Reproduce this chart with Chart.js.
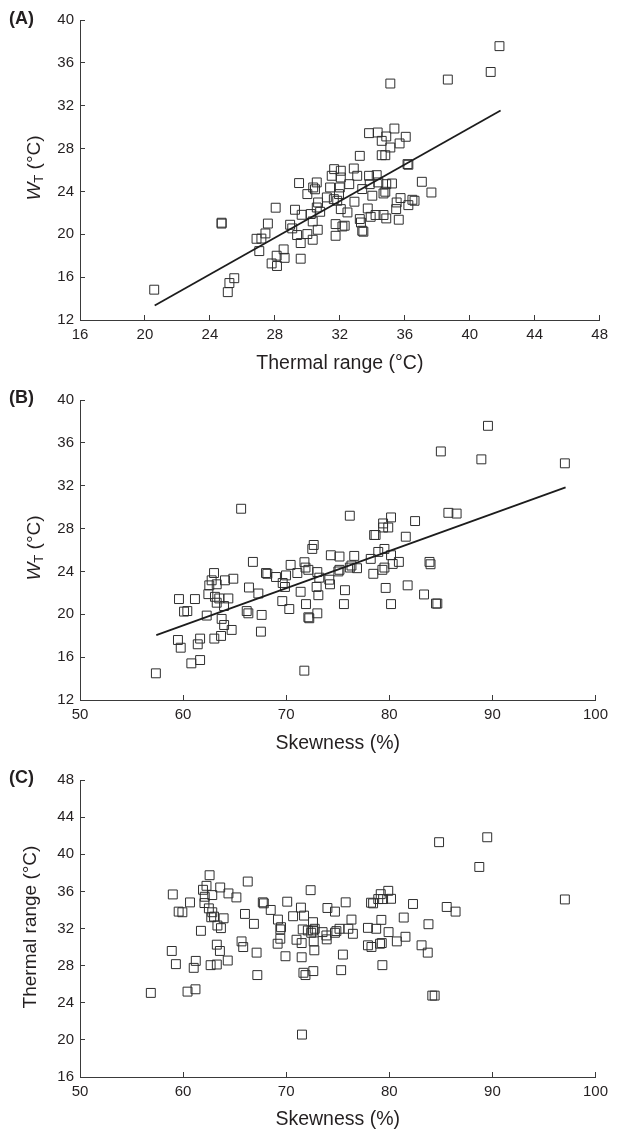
<!DOCTYPE html>
<html>
<head>
<meta charset="utf-8">
<script src="https://cdn.jsdelivr.net/npm/chart.js@4.4.1/dist/chart.umd.min.js"></script>
<style>
  body { margin: 0; background: #fff; width: 619px; height: 1133px; position: relative; overflow: hidden;
         font-family: "Liberation Sans", Arial, sans-serif; color: #231f20; }
  canvas { position: absolute; left: 0; }
  .tag { position: absolute; left: 9px; font-weight: bold; font-size: 18px; line-height: 20px; }
  .ylab { position: absolute; transform: translate(-50%, -50%) rotate(-90deg); white-space: nowrap; font-size: 19px; }
  .ylab sub { font-size: 13px; vertical-align: -3px; }
</style>
</head>
<body>
<canvas id="chartA" width="619" height="380" style="top:0"></canvas>
<canvas id="chartB" width="619" height="380" style="top:380px"></canvas>
<canvas id="chartC" width="619" height="373" style="top:760px"></canvas>

<div class="tag" style="top:8px">(A)</div>
<div class="tag" style="top:387px">(B)</div>
<div class="tag" style="top:767px">(C)</div>
<div class="ylab" style="left:34px; top:168px"><i>W</i><sub>T</sub> (°C)</div>
<div class="ylab" style="left:34px; top:548px"><i>W</i><sub>T</sub> (°C)</div>
<div class="ylab" style="left:30px; top:927px">Thermal range (°C)</div>

<script>
// (A) thermal range vs W_T
const thermalA = [20.57, 24.72, 24.72, 25.5, 25.2, 25.1, 27.04, 26.87, 27.17, 27.42, 27.57, 28.05, 27.8, 28.13, 28.11,
  28.54, 28.6, 29.59, 28.94, 29.07, 29.24, 29.49, 29.37, 29.59, 29.65, 30.0, 30.0, 30.21, 30.33, 30.33, 30.64, 30.36,
  30.47, 30.58, 30.58, 30.79, 30.66, 31.2, 31.4, 31.5, 31.65, 31.63, 31.74, 31.74, 32.06, 32.06, 32.0, 31.95, 31.84,
  32.06, 32.16, 32.3, 32.47, 32.58, 32.86, 33.07, 32.9, 33.23, 33.23, 33.3, 33.38, 33.45, 33.38, 33.72, 33.8, 33.84,
  34.0, 33.9, 33.8, 34.33, 34.27, 34.37, 34.2, 34.58, 34.86, 34.58, 34.8, 34.69, 34.8, 34.86, 34.69, 34.86, 35.11,
  35.36, 35.21, 35.5, 35.47, 35.63, 35.74, 35.68, 36.06, 36.17, 36.22, 36.22, 36.47, 36.6, 37.05, 37.64, 35.11, 38.65,
  41.29, 41.83];
const wtA = [14.83, 21.08, 21.0, 15.9, 15.45, 14.6, 18.43, 19.58, 19.6, 20.08, 21.0, 22.48, 17.28, 17.04, 18.0,
  18.59, 17.8, 17.72, 20.89, 20.55, 22.29, 24.78, 19.93, 19.18, 21.82, 20.02, 23.75, 21.89, 21.2, 19.49, 20.42, 24.37,
  24.2, 24.84, 22.5, 22.1, 22.97, 23.44, 24.37, 25.46, 26.08, 23.28, 20.95, 19.86, 25.93, 25.3, 24.37, 23.75, 23.13,
  22.35, 20.73, 20.8, 22.04, 24.68, 26.14, 25.46, 23.04, 27.32, 21.42, 21.1, 20.33, 20.24, 24.22, 22.41, 25.46, 24.68,
  23.6, 21.63, 29.44, 29.5, 25.52, 24.84, 21.8, 28.72, 29.13, 27.38, 27.38, 23.81, 23.97, 24.68, 21.8, 21.48, 28.1,
  29.87, 24.74, 22.97, 22.35, 21.36, 23.38, 28.48, 29.1, 26.55, 26.49, 22.72, 23.22, 23.13, 24.9, 23.9, 34.07, 34.44,
  35.15, 37.56];
const fitAx = [20.6, 41.9];
const fitAy = [13.35, 31.55];

// (B) skewness vs W_T
const skewB = [89.57, 85.0, 88.93, 97.03, 65.63, 76.17, 80.17, 79.4, 79.9, 79.4, 82.5, 85.73, 86.53, 78.53, 78.67,
  81.6, 72.67, 72.53, 66.77, 79.53, 78.93, 74.33, 75.17, 76.6, 78.2, 80.17, 80.93, 80.33, 83.9, 84.0, 71.77, 70.43,
  71.87, 76.33, 76.17, 79.53, 76.87, 75.17, 79.33,
  63.0, 64.06, 64.87, 62.77, 62.54, 63.26, 62.45, 63.09, 63.51, 64.39, 63.26, 63.97, 59.6, 61.15, 60.09, 60.41, 62.29,
  63.74, 66.39, 67.3, 68.17, 68.04, 69.01, 69.98, 69.66, 69.88, 71.08, 72.15, 73.02, 73.21, 72.95, 73.12, 71.4, 69.62,
  70.3, 71.92, 66.17, 66.33, 67.62, 72.15, 72.24, 73.02, 74.18, 74.25, 75.06, 75.7, 75.6,
  78.45, 79.65, 81.78, 83.37, 80.17, 84.53, 84.66,
  57.36, 71.76, 59.5, 59.77, 60.8, 61.65, 61.42, 61.65, 63.03, 63.68, 63.98, 64.71, 67.55];
const wtB = [37.59, 35.2, 34.46, 34.09, 29.85, 29.2, 29.04, 28.48, 28.1, 28.1, 28.7, 29.47, 29.4, 27.4, 27.4,
  27.24, 26.47, 26.1, 24.89, 26.1, 25.82, 25.51, 25.39, 25.45, 25.17, 25.51, 24.89, 24.7, 24.89, 24.67, 24.86, 24.61,
  24.36, 24.55, 24.36, 24.36, 24.3, 24.15, 24.15,
  23.85, 23.17, 23.32, 23.17, 22.7, 22.8, 21.88, 21.63, 21.48, 21.48, 21.08, 20.77, 21.42, 21.42, 20.25, 20.3, 19.88,
  19.57, 22.5, 21.94, 23.78, 23.85, 23.48, 23.63, 22.92, 22.55, 23.85, 24.15, 23.94, 23.42, 22.55, 21.78, 22.1, 21.23,
  20.49, 20.95, 20.3, 20.09, 19.94, 19.72, 19.63, 20.09, 23.23, 22.8, 24.0, 22.25, 20.95,
  23.78, 22.46, 22.7, 21.85, 20.95, 21.0, 21.0,
  14.49, 14.74, 17.6, 16.88, 15.42, 15.73, 17.2, 17.73, 17.73, 17.98, 19.0, 18.54, 18.38];
const fitBx = [57.4, 97.1];
const fitBy = [18.05, 31.85];

// (C) skewness vs thermal range
const skewC = [89.5, 84.83, 88.73, 97.03, 85.57, 86.43, 83.8, 83.13, 83.73, 84.17, 84.4, 82.3, 81.4, 81.57, 80.73,
  79.9, 79.17, 78.93, 79.4, 80.17, 78.43, 78.23, 79.23, 79.93, 78.73, 77.93, 76.33, 75.77, 74.73, 74.0, 76.47, 76.03,
  75.17, 74.87, 74.73, 73.9, 73.93, 73.53, 72.77, 72.6, 72.43, 72.67, 72.73, 72.6, 71.73, 71.43, 70.67, 71.6, 72.1,
  72.37, 70.1, 69.2, 69.5, 69.43, 69.43, 69.17, 71.0, 71.5, 71.5, 69.93, 72.63, 71.67, 71.87, 71.53, 75.33, 75.5,
  77.93, 78.27, 79.1, 79.27, 79.33, 68.5, 67.73, 67.83, 66.87, 66.0, 66.27, 65.67, 65.83, 67.13, 67.2, 65.17, 64.4,
  63.6, 62.57, 62.27, 61.93, 62.1, 62.83, 62.07, 62.5, 62.83, 63.0, 62.73, 63.93, 63.33, 63.67, 63.27, 63.57, 64.33,
  63.27, 62.67, 61.73, 60.67, 59.0, 59.57, 59.93, 58.9, 59.3, 61.23, 61.03, 56.87, 60.43, 61.2];
const thermalC = [41.83, 41.3, 38.63, 35.13, 34.32, 33.82, 32.46, 30.19, 29.4, 24.77, 24.77, 34.64, 33.18, 31.11, 30.61,
  36.06, 35.7, 35.17, 35.17, 35.2, 34.71, 34.78, 32.93, 31.61, 31.97, 32.07, 32.96, 34.82, 33.82, 34.21, 31.43, 31.97,
  31.97, 31.72, 31.54, 31.25, 30.83, 31.61, 31.97, 31.79, 31.54, 30.61, 29.65, 32.68, 33.39, 34.25, 33.32, 31.9, 31.79,
  36.13, 34.89, 32.96, 32.14, 31.9, 30.9, 30.36, 30.79, 30.43, 28.9, 29.01, 27.41, 27.23, 26.98, 20.57, 27.51, 29.19,
  30.19, 30.01, 30.36, 30.43, 28.05, 34.0, 34.82, 34.71, 32.5, 33.57, 37.06, 30.61, 30.0, 29.4, 26.98, 35.35, 35.78,
  36.42, 37.74, 36.6, 36.17, 35.42, 35.6, 34.74, 34.17, 33.75, 33.28, 33.21, 33.1, 32.32, 32.04, 30.26, 29.58, 28.55,
  28.12, 28.05, 31.75, 34.81, 35.67, 33.82, 33.75, 29.58, 28.16, 28.51, 27.76, 25.06, 25.2, 25.45];

const ink = "#231f20";
const axisGrey = "#3a3a3a";
const fontFamily = '"Liberation Sans", Arial, sans-serif';

function pairs(xs, ys) {
  return xs.map((x, i) => ({ x: x, y: ys[i] }));
}

function makeChart(id, pts, fit, xr, yr, xTitle, pad, xHeight, titlePad) {
  const datasets = [{
    data: pts,
    pointStyle: "rect",
    pointRadius: 6.3,
    pointBorderWidth: 1,
    pointBorderColor: "#2e2e2e",
    pointBackgroundColor: "rgba(0,0,0,0)",
    showLine: false,
    order: 2
  }];
  if (fit) {
    datasets.push({
      data: fit,
      showLine: true,
      pointRadius: 0,
      borderColor: "#1c1c1c",
      borderWidth: 1.8,
      order: 1
    });
  }
  new Chart(document.getElementById(id), {
    type: "scatter",
    data: { datasets: datasets },
    options: {
      responsive: false,
      animation: false,
      events: [],
      layout: { padding: { top: pad.top, right: pad.right, left: 0, bottom: 0 } },
      plugins: { legend: { display: false }, tooltip: { enabled: false } },
      scales: {
        x: {
          type: "linear",
          min: xr[0], max: xr[1],
          afterFit: s => { s.height = xHeight; },
          border: { display: true, color: axisGrey, width: 1 },
          grid: { drawOnChartArea: false, drawTicks: true, tickLength: -5, color: axisGrey },
          ticks: { stepSize: xr[2], padding: 11, color: ink, font: { family: fontFamily, size: 15 }, maxRotation: 0 },
          title: { display: true, text: xTitle, color: ink, padding: { top: 0, bottom: titlePad },
                   font: { family: fontFamily, size: 19.5 } }
        },
        y: {
          type: "linear",
          min: yr[0], max: yr[1],
          afterFit: s => { s.width = 80; },
          border: { display: true, color: axisGrey, width: 1 },
          grid: { drawOnChartArea: false, drawTicks: true, tickLength: -5, color: axisGrey },
          ticks: { stepSize: yr[2], padding: 11, color: ink, font: { family: fontFamily, size: 15 } }
        }
      }
    }
  });
}

makeChart("chartA", pairs(thermalA, wtA), pairs(fitAx, fitAy), [16, 48, 4], [12, 40, 4],
  "Thermal range (°C)", { top: 15, right: 19 }, 60, 5);
makeChart("chartB", pairs(skewB, wtB), pairs(fitBx, fitBy), [50, 100, 10], [12, 40, 4],
  "Skewness (%)", { top: 15, right: 23 }, 60, 5);
makeChart("chartC", pairs(skewC, thermalC), null, [50, 100, 10], [16, 48, 4],
  "Skewness (%)", { top: 17, right: 23 }, 56, 2);
</script>
</body>
</html>
